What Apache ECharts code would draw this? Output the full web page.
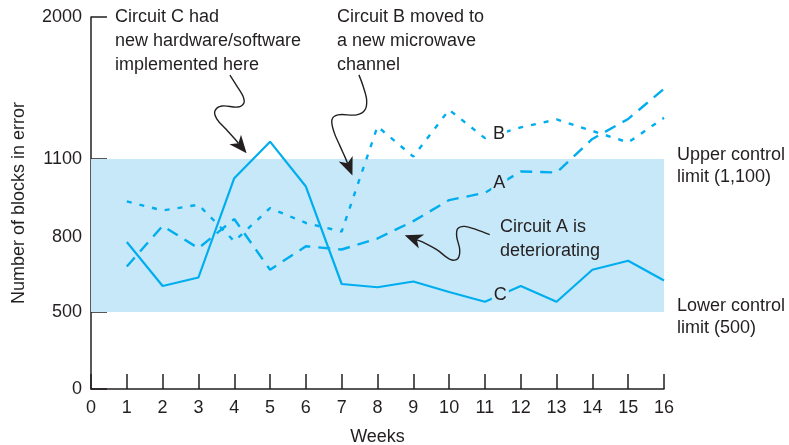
<!DOCTYPE html>
<html>
<head>
<meta charset="utf-8">
<script src="https://cdn.jsdelivr.net/npm/echarts@6/dist/echarts.min.js"></script>
<style>
  html, body { margin: 0; padding: 0; background: #fff; }
  #chart { width: 789px; height: 445px; }
</style>
</head>
<body>
<div id="chart"></div>
<script>
// Weekly number of blocks in error for three circuits
const weeks = [1, 2, 3, 4, 5, 6, 7, 8, 9, 10, 11, 12, 13, 14, 15, 16];
const circuitA = [682, 843, 755, 869, 669, 763, 750, 794, 861, 942, 970, 1052, 1048, 1227, 1354, 1545];
const circuitB = [937, 902, 924, 783, 911, 854, 821, 1306, 1115, 1412, 1232, 1300, 1351, 1278, 1205, 1361];
const circuitC = [780, 604, 638, 1026, 1210, 994, 612, 599, 622, 580, 541, 604, 541, 669, 705, 626];

// Control limits
const lowerLimit = 500;
const upperLimit = 1100;

// Tick labels
const yTickValues = [0, 500, 800, 1100, 2000];
const xTickLabels = ['0', '1', '2', '3', '4', '5', '6', '7', '8', '9', '10', '11', '12', '13', '14', '15', '16'];

// The vertical scale is piecewise linear: the control band is stretched.
// Knot positions along the axis for each tick value.
const yKnotPos = [0, 77, 152, 230, 372];
const yAxisMax = yKnotPos[yKnotPos.length - 1];

function toAxis(v) {
  for (let i = 0; i < yTickValues.length - 1; i++) {
    const a = yTickValues[i], b = yTickValues[i + 1];
    if (v <= b || i === yTickValues.length - 2) {
      return yKnotPos[i] + (v - a) / (b - a) * (yKnotPos[i + 1] - yKnotPos[i]);
    }
  }
}
function fromAxis(p) {
  for (let i = 0; i < yKnotPos.length; i++) {
    if (Math.abs(yKnotPos[i] - p) < 0.01) return yTickValues[i];
  }
  return '';
}

const ink = '#231f20';
const lineBlue = '#00aeef';
const bandBlue = '#c7e8f8';
const fontFamily = '"Liberation Sans", Arial, Helvetica, sans-serif';

const toSeries = vals => weeks.map((w, i) => [w, toAxis(vals[i])]);

// Letters naming each curve, placed in data coordinates
const curveLabels = [
  { name: 'A', at: [11.4, 1007], bg: bandBlue },
  { name: 'B', at: [11.39, 1257], bg: '#ffffff' },
  { name: 'C', at: [11.43, 568], bg: bandBlue }
];
const labelPoint = (c) => ({
  coord: [c.at[0], toAxis(c.at[1])],
  symbol: 'circle', symbolSize: 1,
  itemStyle: { color: 'rgba(0,0,0,0)' },
  label: {
    show: true, position: 'inside', formatter: c.name,
    fontSize: 18, fontFamily, color: ink,
    backgroundColor: c.bg, padding: [1, 2]
  }
});

const chart = echarts.init(document.getElementById('chart'), null, { renderer: 'canvas' });

const axisLineStyle = { color: ink, width: 1.5 };
const textBase = { fontSize: 18, fontFamily, color: ink };

chart.setOption({
  animation: false,
  grid: { left: 91, right: 125, top: 17, bottom: 56, containLabel: false, outerBoundsMode: 'none' },
  xAxis: {
    type: 'value', min: 0, max: 16, interval: 1,
    name: 'Weeks', nameLocation: 'middle', nameGap: 39,
    nameTextStyle: textBase,
    axisLine: { show: true, lineStyle: axisLineStyle },
    axisTick: { show: true, inside: true, length: 15, lineStyle: axisLineStyle },
    axisLabel: { ...textBase, margin: 10, formatter: v => xTickLabels[v] },
    splitLine: { show: false }
  },
  yAxis: {
    type: 'value', min: 0, max: yAxisMax,
    name: 'Number of blocks in error', nameLocation: 'middle', nameGap: 63,
    nameTextStyle: textBase,
    axisLine: { show: true, lineStyle: axisLineStyle },
    axisTick: { show: true, inside: true, length: 16, lineStyle: axisLineStyle, customValues: yKnotPos },
    axisLabel: { ...textBase, margin: 9, customValues: yKnotPos, formatter: v => String(fromAxis(v)) },
    splitLine: { show: false }
  },
  series: [
    {
      name: 'Circuit C', type: 'line', data: toSeries(circuitC),
      symbol: 'none', z: 3,
      lineStyle: { color: lineBlue, width: 2.2 },
      markArea: {
        silent: true,
        itemStyle: { color: bandBlue },
        data: [[{ yAxis: toAxis(lowerLimit) }, { yAxis: toAxis(upperLimit) }]]
      },
      markPoint: { silent: true, data: [labelPoint(curveLabels[2])] }
    },
    {
      name: 'Circuit A', type: 'line', data: toSeries(circuitA),
      symbol: 'none', z: 3,
      lineStyle: { color: lineBlue, width: 2.4, type: [12, 8] },
      markPoint: { silent: true, data: [labelPoint(curveLabels[0])] }
    },
    {
      name: 'Circuit B', type: 'line', data: toSeries(circuitB),
      symbol: 'none', z: 3,
      lineStyle: { color: lineBlue, width: 2.4, type: [5, 8] },
      markPoint: { silent: true, data: [labelPoint(curveLabels[1])] }
    }
  ]
});

// Annotation arrows: a wavy stroke ending in a stealth arrowhead that points
// at a spot given in data coordinates.
const arrowTips = [
  { at: [4.345, 1136], path: [[-16.7, -78.3], [-9.7, -67.3], [-3.7, -57.3], [-2.7, -50.3], [-8.7, -46.3], [-24.7, -47.3], [-31.7, -42.3], [-29.7, -34.3], [-20.7, -24.3], [-11.7, -14.3]] },
  { at: [7.30, 1037], path: [[6.5, -100.5], [10.8, -88.8], [14.2, -75.5], [12.5, -65.5], [4.2, -60.5], [-14.5, -60.5], [-20.5, -55.5], [-18.5, -43.5], [-12.5, -29.5], [-7.5, -18.5]] },
  { at: [8.76, 807], path: [[85, -0.5], [71.7, -5.5], [60, -8.8], [53, -6.5], [52, 1.5], [55, 14.5], [53, 23.5], [46, 24.5], [32, 14.5], [17, 6.5]] }
];

const graphics = [];
arrowTips.forEach(a => {
  const tip = chart.convertToPixel({ xAxisIndex: 0, yAxisIndex: 0 }, [a.at[0], toAxis(a.at[1])]);
  const last = a.path[a.path.length - 1];
  const len = Math.hypot(last[0], last[1]);
  const ux = -last[0] / len, uy = -last[1] / len; // direction toward tip
  const headLen = 18, halfW = 7.5, notch = 5;
  const bx = tip[0] - ux * headLen, by = tip[1] - uy * headLen;
  const nx = -uy, ny = ux;
  const pts = a.path.map(p => [tip[0] + p[0], tip[1] + p[1]]);
  pts.push([tip[0] - ux * (headLen - notch), tip[1] - uy * (headLen - notch)]);
  graphics.push({
    type: 'polyline', silent: true, z: 10,
    shape: { points: pts, smooth: 0.35 },
    style: { stroke: ink, lineWidth: 1.4, fill: null }
  });
  graphics.push({
    type: 'polygon', silent: true, z: 11,
    shape: {
      points: [
        [tip[0], tip[1]],
        [bx + nx * halfW, by + ny * halfW],
        [tip[0] - ux * (headLen - notch), tip[1] - uy * (headLen - notch)],
        [bx - nx * halfW, by - ny * halfW]
      ]
    },
    style: { fill: ink, stroke: null }
  });
});

const note = (text, x, y, lh) => ({
  type: 'text', silent: true, z: 12,
  style: {
    text, x, y, fill: ink,
    font: '18px ' + fontFamily,
    lineHeight: lh,
    textAlign: 'left', textVerticalAlign: 'top',
    align: 'left', verticalAlign: 'top'
  }
});

graphics.push(note('Circuit C had\nnew hardware/software\nimplemented here', 115, 5, 24));
graphics.push(note('Circuit B moved to\na new microwave\nchannel', 337, 5, 24));
graphics.push(note('Circuit A is\ndeteriorating', 500, 215, 24));
graphics.push(note('Upper control\nlimit (1,100)', 677, 144, 22));
graphics.push(note('Lower control\nlimit (500)', 677, 295, 22));

chart.setOption({ graphic: graphics });
</script>
</body>
</html>
